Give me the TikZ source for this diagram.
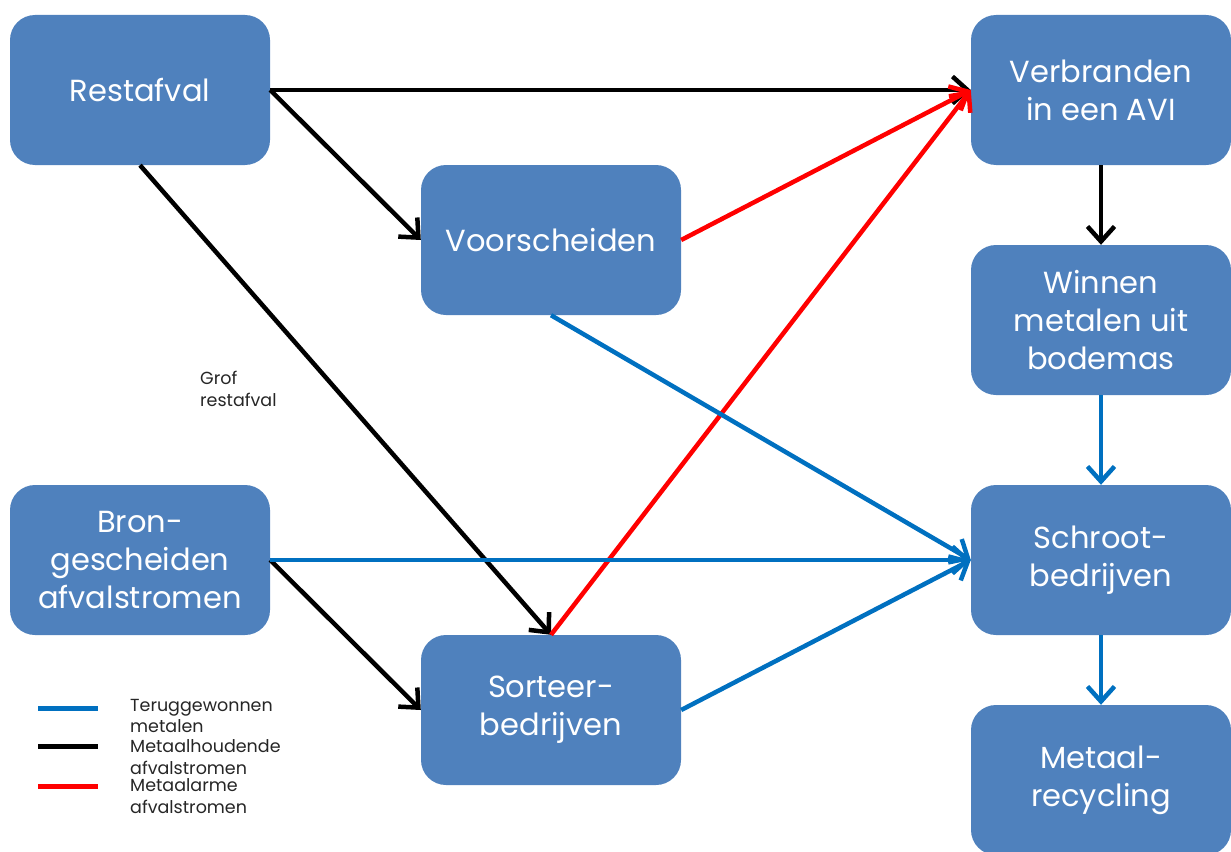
\documentclass[tikz,border=0pt]{standalone}
\usepackage{fontspec}
\setmainfont{Poppins}
\usetikzlibrary{arrows.meta}
\definecolor{blokblauw}{HTML}{4F81BD}
\definecolor{lijnblauw}{HTML}{0070C0}
\tikzset{
  blok/.style={rectangle,rounded corners=25pt,fill=blokblauw,text=white,
    minimum width=260pt,minimum height=150pt,inner sep=0pt,align=center,
    font=\fontsize{30.5}{38}\selectfont},
  stroom/.style={line width=4.5pt,-{Straight Barb[length=15pt,width=27pt,line width=4.5pt]}},
  zwart/.style={stroom,black},
  blauw/.style={stroom,lijnblauw},
  rood/.style={stroom,red},
  uitleg/.style={align=left,anchor=west,inner sep=0pt,text=black!85,
    font=\fontsize{17.5}{21.5}\selectfont}
}
\begin{document}
\begin{tikzpicture}[x=1pt,y=-1pt]
  \useasboundingbox (0,0) rectangle (1231,851);
  \node (rest) at (140,90) [blok]{Restafval};
  \node (voor) at (551,240) [blok]{Voorscheiden};
  \node (verb) at (1101,90) [blok]{Verbranden\\in een AVI};
  \node (winn) at (1101,320) [blok]{Winnen\\metalen uit\\bodemas};
  \node (schr) at (1101,560) [blok]{Schroot-\\bedrijven};
  \node (meta) at (1101,780) [blok]{Metaal-\\recycling};
  \node (bron) at (140,560) [blok]{Bron-\\gescheiden\\afvalstromen};
  \node (sort) at (551,710) [blok]{Sorteer-\\bedrijven};

  \node (grof) at (200,389) [uitleg]{Grof\\restafval};

  % legenda
  \node (lg1) at (130,716) [uitleg]{Teruggewonnen\\metalen};
  \node (lg2) at (130,757) [uitleg]{Metaalhoudende\\afvalstromen};
  \node (lg3) at (130,796) [uitleg]{Metaalarme\\afvalstromen};
  \coordinate (b1) at (38,708);
  \coordinate (e1) at (98,708);
  \coordinate (b2) at (38,746);
  \coordinate (e2) at (98,746);
  \coordinate (b3) at (38,786);
  \coordinate (e3) at (98,786);
  \draw[line width=5pt,lijnblauw] (b1) -- (e1);
  \draw[line width=5pt,black] (b2) -- (e2);
  \draw[line width=5pt,red] (b3) -- (e3);

  \draw[zwart] (rest.east) -- (verb.west);
  \draw[zwart] (rest.east) -- (voor.west);
  \draw[zwart] (rest.south) -- (sort.north);
  \draw[zwart] (bron.east) -- (sort.west);
  \draw[zwart] (verb.south) -- (winn.north);

  \draw[rood] (voor.east) -- (verb.west);
  \draw[rood] (sort.north) -- (verb.west);

  \draw[blauw] (voor.south) -- (schr.west);
  \draw[blauw] (bron.east) -- (schr.west);
  \draw[blauw] (sort.east) -- (schr.west);
  \draw[blauw] (winn.south) -- (schr.north);
  \draw[blauw] (schr.south) -- (meta.north);

\end{tikzpicture}
\end{document}
